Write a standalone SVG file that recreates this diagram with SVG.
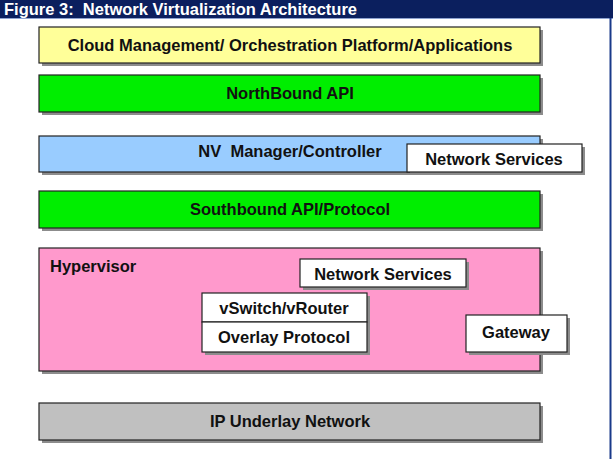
<svg xmlns="http://www.w3.org/2000/svg" width="613" height="459" viewBox="0 0 613 459">
<style>
  .box { stroke: #222; stroke-width: 1.2; }
  .sh { fill: #8c8c8c; }
  .t { font-family: "Liberation Sans", Arial, sans-serif; font-weight: bold; font-size: 16.5px; fill: #111; text-anchor: middle; white-space: pre; }
  .title { font-family: "Liberation Sans", Arial, sans-serif; font-weight: bold; font-size: 16.5px; fill: #fff; white-space: pre; }
</style>
<rect x="0" y="0" width="613" height="459" fill="#fff"/>
<g id="titlebar">
  <rect x="0" y="0" width="613" height="18" fill="#0b1f5e"/>
  <line x1="0" y1="18.5" x2="613" y2="18.5" stroke="#8fa3d0" stroke-width="1"/>
  <text class="title" x="4" y="14.5" xml:space="preserve">Figure 3:  Network Virtualization Architecture</text>
</g>
<rect x="609.5" y="18" width="2" height="441" fill="#1a3a8a"/>
<g id="cloud">
  <rect class="sh" x="42" y="30" width="501" height="36"/>
  <rect class="box" x="39" y="27" width="501" height="36" fill="#ffff99"/>
  <text class="t" x="290" y="50.5">Cloud Management/ Orchestration Platform/Applications</text>
</g>
<g id="northbound">
  <rect class="sh" x="42" y="78" width="501" height="37"/>
  <rect class="box" x="39" y="75" width="501" height="37" fill="#00ee00"/>
  <text class="t" x="290" y="99">NorthBound API</text>
</g>
<g id="nvmanager">
  <rect class="sh" x="42" y="139" width="501" height="36"/>
  <rect class="box" x="39" y="136" width="501" height="36" fill="#99ccff"/>
  <text class="t" x="290" y="157" xml:space="preserve">NV  Manager/Controller</text>
</g>
<g id="netservices1">
  <rect class="sh" x="410" y="147" width="175" height="28"/>
  <rect class="box" x="407" y="144" width="175" height="28" fill="#fff"/>
  <text class="t" x="494" y="164.5">Network Services</text>
</g>
<g id="southbound">
  <rect class="sh" x="42" y="194" width="501" height="37"/>
  <rect class="box" x="39" y="191" width="501" height="37" fill="#00ee00"/>
  <text class="t" x="290" y="215">Southbound API/Protocol</text>
</g>
<g id="hypervisor">
  <rect class="sh" x="42" y="251" width="501" height="123"/>
  <rect class="box" x="39" y="248" width="501" height="123" fill="#ff99cc"/>
  <text class="t" x="50" y="272" style="text-anchor:start">Hypervisor</text>
</g>
<g id="netservices2">
  <rect class="sh" x="303" y="262" width="166" height="28"/>
  <rect class="box" x="300" y="259" width="166" height="28" fill="#fff"/>
  <text class="t" x="383" y="279.5">Network Services</text>
</g>
<g id="vswitch">
  <rect class="sh" x="205" y="296" width="165" height="59"/>
  <rect class="box" x="202" y="293" width="165" height="29" fill="#fff"/>
  <text class="t" x="284" y="314">vSwitch/vRouter</text>
</g>
<g id="overlay">
  <rect class="box" x="202" y="322" width="165" height="30" fill="#fff"/>
  <text class="t" x="284" y="343">Overlay Protocol</text>
</g>
<g id="gateway">
  <rect class="sh" x="469" y="318" width="101" height="37"/>
  <rect class="box" x="466" y="315" width="101" height="37" fill="#fff"/>
  <text class="t" x="516" y="337.5">Gateway</text>
</g>
<g id="ipunderlay">
  <rect class="sh" x="42" y="406" width="501" height="37"/>
  <rect class="box" x="39" y="403" width="501" height="37" fill="#c0c0c0"/>
  <text class="t" x="290" y="427">IP Underlay Network</text>
</g>
<g id="connectors"></g>
</svg>
